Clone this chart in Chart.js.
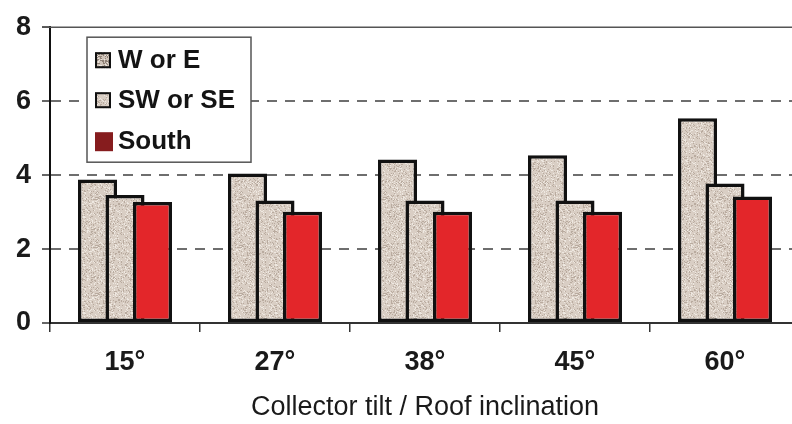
<!DOCTYPE html>
<html>
<head>
<meta charset="utf-8">
<script src="https://cdn.jsdelivr.net/npm/chart.js@4/dist/chart.umd.min.js"></script>
<style>
  html, body { margin: 0; padding: 0; background: #fff; overflow: hidden; }
  canvas { display: block; }
</style>
</head>
<body>
<canvas id="c" width="800" height="424"></canvas>
<script>
// Collector tilt categories and yield per orientation
const tilts = ['15°', '27°', '38°', '45°', '60°'];
const westEast = [3.88, 4.04, 4.42, 4.54, 5.54];
const southwestSoutheast = [3.46, 3.31, 3.31, 3.31, 3.77];
const south = [3.27, 3.01, 3.01, 3.01, 3.42];
const seriesNames = ['W or E', 'SW or SE', 'South'];
const yTickValues = [0, 2, 4, 6, 8];
const axisTitle = 'Collector tilt / Roof inclination';

const FONT = "'Liberation Sans', Arial, Helvetica, sans-serif";
Chart.defaults.font.family = FONT;

// Speckled beige fill, built from a fixed hash so it is the same on every load
function speckle(base, dark, light, darkShare) {
  const size = 48;
  const c = document.createElement('canvas');
  c.width = c.height = size;
  const g = c.getContext('2d');
  g.fillStyle = base;
  g.fillRect(0, 0, size, size);
  for (let y = 0; y < size; y++) {
    for (let x = 0; x < size; x++) {
      let h = Math.sin(x * 12.9898 + y * 78.233) * 43758.5453;
      h -= Math.floor(h);
      if (h < darkShare) { g.fillStyle = dark; g.fillRect(x, y, 1, 1); }
      else if (h > 0.88) { g.fillStyle = light; g.fillRect(x, y, 1, 1); }
    }
  }
  return g.createPattern(c, 'repeat');
}

const ctx = document.getElementById('c').getContext('2d');
const beige = speckle('#d9cec4', '#b9ab9f', '#eee8e1', 0.16);
const beigeSwatchDark = speckle('#cfc3b8', '#8f8176', '#ece6df', 0.3);
const red = '#e3262a';
const legendSwatches = [beigeSwatchDark, beige, '#861c1e'];

// Paint datasets in index order so each later series overlaps the earlier one
const paintOrder = {
  id: 'paintOrder',
  beforeDatasetsDraw(chart) {
    const { left, right, top } = chart.chartArea;
    const c = chart.ctx;
    c.save();
    c.strokeStyle = '#555';
    c.lineWidth = 1.5;
    c.beginPath();
    c.moveTo(left - 8, top);
    c.lineTo(right, top);
    c.stroke();
    c.restore();
    chart.getSortedVisibleDatasetMetas().forEach(meta => meta.controller.draw());
    return false;
  }
};

// Boxed legend in the upper-left of the plot
const boxedLegend = {
  id: 'boxedLegend',
  afterDraw(chart) {
    const { left, top } = chart.chartArea;
    const c = chart.ctx;
    const bx = left + 37, by = top + 10, bw = 164, bh = 125;
    c.save();
    c.fillStyle = '#fff';
    c.fillRect(bx, by, bw, bh);
    c.strokeStyle = '#555';
    c.lineWidth = 1.5;
    c.strokeRect(bx, by, bw, bh);
    const rows = [top + 33, top + 73, top + 114];
    chart.data.datasets.forEach((ds, i) => {
      const cy = rows[i];
      const sx = left + 45;
      if (i < 2) {
        c.fillStyle = legendSwatches[i];
        c.fillRect(sx, cy - 8, 16, 16);
        c.strokeStyle = '#111';
        c.lineWidth = 2;
        c.strokeRect(sx + 1, cy - 7, 14, 14);
      } else {
        c.fillStyle = legendSwatches[i];
        c.fillRect(sx, cy - 9, 18, 19);
      }
      c.fillStyle = '#141414';
      c.font = 'bold 26px ' + FONT;
      c.textBaseline = 'middle';
      c.textAlign = 'left';
      c.fillText(ds.label, left + 68, cy + 1);
    });
    c.restore();
  }
};

new Chart(ctx, {
  type: 'bar',
  data: {
    labels: tilts,
    datasets: [
      { label: seriesNames[0], data: westEast, backgroundColor: beige },
      { label: seriesNames[1], data: southwestSoutheast, backgroundColor: beige },
      { label: seriesNames[2], data: south, backgroundColor: red }
    ]
  },
  options: {
    responsive: false,
    animation: false,
    layout: { padding: { top: 25, right: 0, bottom: 0, left: 0 } },
    datasets: {
      bar: {
        categoryPercentage: 0.55,
        barPercentage: 1.42,
        borderColor: '#111',
        borderWidth: 3.5,
        borderSkipped: false
      }
    },
    plugins: {
      legend: { display: false },
      tooltip: { enabled: false }
    },
    scales: {
      x: {
        grid: {
          offset: true,
          drawOnChartArea: false,
          drawTicks: true,
          tickLength: 9,
          color: '#333',
          tickColor: '#333',
          lineWidth: 1.5,
          tickWidth: 1.5
        },
        border: { display: true, color: '#333', width: 2 },
        ticks: {
          color: '#1a1a1a',
          padding: 14,
          font: { size: 27, weight: 'bold' }
        },
        title: {
          display: true,
          text: axisTitle,
          color: '#1a1a1a',
          padding: 0,
          font: { size: 27, weight: 'normal' }
        },
        afterFit(scale) { scale.height = 101; }
      },
      y: {
        min: yTickValues[0],
        max: yTickValues[yTickValues.length - 1],
        afterBuildTicks(scale) { scale.ticks = yTickValues.map(v => ({ value: v })); },
        grid: {
          color: c => (c.tick && (c.tick.value === 0 || c.tick.value === 8)) ? 'rgba(0,0,0,0)' : '#6e6e6e',
          lineWidth: 2,
          tickLength: 8,
          tickColor: '#333',
          tickWidth: 1.5,
          tickBorderDash: []
        },
        border: { display: true, color: '#111', width: 2, dash: [10, 8] },
        ticks: {
          color: '#1a1a1a',
          padding: 11,
          font: { size: 27, weight: 'bold' }
        },
        afterFit(scale) { scale.width = 50; }
      }
    }
  },
  plugins: [paintOrder, boxedLegend]
});
</script>
</body>
</html>
